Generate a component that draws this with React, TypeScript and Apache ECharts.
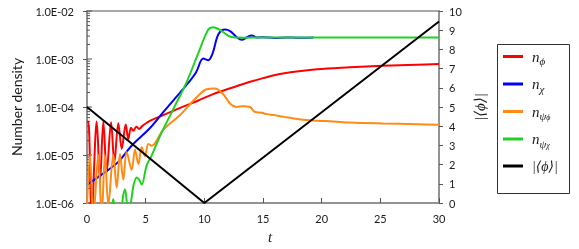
import React, { useEffect, useRef } from "react";
import * as echarts from "echarts";

// ---- data (t, value) ----
const nPhi: [number, number][] = [
  [0, 4.9e-5], [0.11, 5.0e-5], [0.4, 6e-7], [0.83, 5.0e-5], [1.11, 2.8e-6], [1.39, 5.0e-5],
  [1.68, 4.4e-6], [2.05, 4.8e-5], [2.33, 7e-6], [2.67, 4.6e-5], [2.96, 1.35e-5], [3.3, 4.3e-5],
  [3.52, 2.15e-5], [3.75, 3.7e-5], [3.95, 3.2e-5], [4.2, 3.9e-5], [4.45, 3.5e-5], [4.7, 4.0e-5],
  [5.1, 4.7e-5], [5.4, 5.2e-5], [6.5, 6.8e-5], [7.9, 9.5e-5], [9.35, 1.32e-4], [10.75, 1.86e-4],
  [12.2, 2.45e-4], [13.9, 3.35e-4], [15.0, 4.0e-4], [16.7, 5.0e-4], [19.6, 6.1e-4], [22.4, 6.7e-4],
  [25.2, 7.2e-4], [28.1, 7.6e-4], [30, 7.85e-4],
];

const nChi: [number, number][] = [
  [0, 2.4e-6], [1.3, 4.0e-6], [2.67, 7.2e-6], [3.8, 1.56e-5], [5.37, 3.65e-5], [6.5, 7.8e-5],
  [7.93, 2.0e-4], [8.64, 3.2e-4], [9.3, 5.3e-4], [9.91, 1.02e-3], [10.34, 9.45e-4], [10.7, 1.3e-3],
  [11.2, 3.27e-3], [11.76, 4.13e-3], [12.2, 3.82e-3], [12.76, 2.85e-3], [13.2, 2.51e-3], [13.6, 2.8e-3],
  [14.04, 3.1e-3], [14.47, 2.8e-3], [15.0, 2.85e-3], [16, 2.75e-3], [17, 2.82e-3], [18, 2.76e-3],
  [19.3, 2.8e-3],
];

const nPsiPhi: [number, number][] = [
  [0, 8e-7], [0.26, 1.0e-5], [0.54, 5e-7], [0.96, 1.0e-5], [1.25, 5e-7], [1.53, 1.0e-5],
  [1.82, 9e-7], [2.24, 1.0e-5], [2.53, 2.1e-6], [2.81, 1.05e-5], [3.09, 3.05e-6], [3.38, 1.15e-5],
  [3.81, 4.9e-6], [4.09, 1.3e-5], [4.38, 6.5e-6], [4.66, 1.45e-5], [4.94, 9.5e-6], [5.23, 1.7e-5],
  [5.5, 1.55e-5], [6.5, 3.38e-5], [7.93, 6.8e-5], [9.35, 1.59e-4], [10.2, 2.34e-4], [10.9, 2.42e-4],
  [11.6, 1.86e-4], [12.2, 1.17e-4], [12.75, 1.0e-4], [13.3, 1.04e-4], [13.9, 1.0e-4], [14.3, 7.9e-5],
  [14.9, 7.6e-5], [15.3, 7.1e-5], [15.9, 6.8e-5], [16.7, 6.3e-5], [18.2, 5.5e-5], [19.6, 5.2e-5],
  [21, 5.0e-5], [22.4, 4.75e-5], [25.2, 4.54e-5], [28.1, 4.39e-5], [30, 4.27e-5],
];

const nPsiChi: [number, number][] = [
  [2.0, 5e-7], [2.24, 1.2e-6], [2.45, 6e-7], [2.9, 8e-7], [3.1, 1.52e-6], [3.24, 1.92e-6],
  [3.5, 8e-7], [3.7, 9e-7], [3.95, 2.24e-6], [4.24, 3.4e-6], [4.5, 2.9e-6], [4.66, 2.42e-6],
  [5.09, 6.1e-6], [5.52, 9.8e-6], [6.22, 2.48e-5], [7.36, 9.1e-5], [8.5, 3.35e-4], [9.63, 1.63e-3],
  [10.34, 4.13e-3], [10.77, 4.6e-3], [11.48, 3.82e-3], [12.05, 3.03e-3], [12.62, 2.8e-3],
  [13.5, 2.78e-3], [15, 2.8e-3], [20, 2.8e-3], [25, 2.8e-3], [30, 2.8e-3],
];

const phiVev: [number, number][] = [[0, 5], [10, 0], [30, 9.45]];

const leftDecades = [1e-6, 1e-5, 1e-4, 1e-3, 1e-2];
const rightTicks = [0, 10, 1]; // min, max, interval
const xTicks = [0, 30, 5]; // min, max, interval

const seriesNames = ["nphi", "nchi", "npsiphi", "npsichi", "phi"];
const legendLabels: Record<string, string> = {
  nphi: "{n|n}{s|ϕ}",
  nchi: "{n|n}{s|χ}",
  npsiphi: "{n|n}{s|ψ}{ss|ϕ}",
  npsichi: "{n|n}{s|ψ}{ss|χ}",
  phi: "{m||⟨ϕ⟩|}",
};
const colors = ["#ff0000", "#0000ff", "#ff8a14", "#22d022", "#000000"];

const MATH = "'Liberation Serif', 'DejaVu Serif', serif";
const SANS = "Lato, 'Open Sans', sans-serif";
const TXT = "#1a1a1a";
const FRAME = "#8c8c8c";

export default function App() {
  const ref = useRef<HTMLDivElement>(null);
  useEffect(() => {
    if (!ref.current) return;
    const chart = echarts.init(ref.current, undefined, { renderer: "svg" });

    const minorTicks: number[][] = [];
    for (let i = 0; i < leftDecades.length; i++) {
      minorTicks.push([0, leftDecades[i], 5]);
      if (i < leftDecades.length - 1) {
        for (let k = 2; k <= 9; k++) minorTicks.push([0, leftDecades[i] * k, 3]);
      }
    }

    const line = (name: string, data: [number, number][], color: string, yIdx = 0, smooth: number | boolean = 0.35) => ({
      name,
      type: "line",
      data,
      yAxisIndex: yIdx,
      showSymbol: false,
      symbol: "none",
      smooth,
      clip: true,
      lineStyle: { color, width: 2 },
      itemStyle: { color },
    });

    chart.setOption({
      animation: false,
      grid: {
        left: 87, right: 140, top: 11, bottom: 40,
        show: true, borderColor: FRAME, borderWidth: 1.5, backgroundColor: "transparent",
      },
      xAxis: {
        type: "value",
        min: xTicks[0], max: xTicks[1], interval: xTicks[2],
        name: "t",
        nameLocation: "middle",
        nameGap: 26,
        nameTextStyle: { fontFamily: MATH, fontStyle: "italic", fontSize: 15, color: TXT, padding: [0, 0, 0, 14] },
        axisLine: { lineStyle: { color: FRAME, width: 1.5 } },
        axisTick: { inside: true, length: 5, lineStyle: { color: "#555" } },
        axisLabel: { fontFamily: SANS, fontSize: 11, color: TXT, margin: 10 },
        splitLine: { show: false },
      },
      yAxis: [
        {
          type: "log",
          logBase: 10,
          min: leftDecades[0],
          max: leftDecades[leftDecades.length - 1],
          splitNumber: 4,
          name: "Number density",
          nameLocation: "middle",
          nameRotate: 90,
          nameGap: 64,
          nameTextStyle: { fontFamily: SANS, fontSize: 14, color: TXT },
          axisLine: { show: true, lineStyle: { color: FRAME, width: 1.5 } },
          axisTick: { show: true, inside: false, length: 4, lineStyle: { color: "#555" } },
          axisLabel: {
            fontFamily: SANS, fontSize: 11, color: TXT, margin: 13,
            formatter: (v: number) => {
              const e = Math.round(Math.log10(v));
              return "1.0E-" + String(-e).padStart(2, "0");
            },
          },
          splitLine: { show: false },
        },
        {
          type: "value",
          position: "right",
          min: rightTicks[0], max: rightTicks[1], interval: rightTicks[2],
          name: "|⟨ϕ⟩|",
          nameLocation: "middle",
          nameRotate: 90,
          nameGap: 27,
          nameTextStyle: { fontFamily: MATH, fontStyle: "italic", fontSize: 15, color: TXT },
          axisLine: { show: true, lineStyle: { color: FRAME, width: 1.5 } },
          axisTick: { show: true, inside: false, length: 4, lineStyle: { color: "#555" } },
          axisLabel: { fontFamily: SANS, fontSize: 11, color: TXT, margin: 10 },
          splitLine: { show: false },
        },
      ],
      legend: {
        data: seriesNames,
        orient: "vertical",
        left: 503,
        top: 49,
        padding: 0,
        itemGap: 10,
        itemWidth: 20,
        itemHeight: 3,
        icon: "rect",
        formatter: (name: string) => legendLabels[name],
        textStyle: {
          color: TXT,
          padding: [0, 0, 0, 4],
          rich: {
            n: { fontFamily: MATH, fontStyle: "italic", fontSize: 15, lineHeight: 20, color: TXT },
            s: { fontFamily: MATH, fontStyle: "italic", fontSize: 11, lineHeight: 12, verticalAlign: "bottom", color: TXT },
            ss: { fontFamily: MATH, fontStyle: "italic", fontSize: 8, lineHeight: 6, verticalAlign: "bottom", color: TXT },
            m: { fontFamily: MATH, fontStyle: "italic", fontSize: 14, lineHeight: 20, color: TXT },
          },
        },
      },
      graphic: [
        {
          type: "rect",
          shape: { x: 497.5, y: 44.5, width: 72, height: 149 },
          style: { fill: "none", stroke: "#333", lineWidth: 1 },
          silent: true,
        },
      ],
      series: [
        line("nphi", nPhi, colors[0]),
        line("nchi", nChi, colors[1]),
        line("npsiphi", nPsiPhi, colors[2]),
        line("npsichi", nPsiChi, colors[3]),
        line("phi", phiVev, colors[4], 1, false),
        {
          type: "custom",
          name: "minorTicks",
          xAxisIndex: 0,
          yAxisIndex: 0,
          silent: true,
          clip: false,
          data: minorTicks,
          renderItem: (_p: any, api: any) => {
            const pt = api.coord([api.value(0), api.value(1)]);
            const len = api.value(2);
            return {
              type: "line",
              shape: { x1: pt[0], y1: pt[1], x2: pt[0] + len, y2: pt[1] },
              style: { stroke: "#555", lineWidth: 1 },
            };
          },
        },
      ],
    });
    return () => chart.dispose();
  }, []);
  return <div ref={ref} style={{ position: "fixed", left: 0, top: 0, width: 579, height: 249 }} />;
}
